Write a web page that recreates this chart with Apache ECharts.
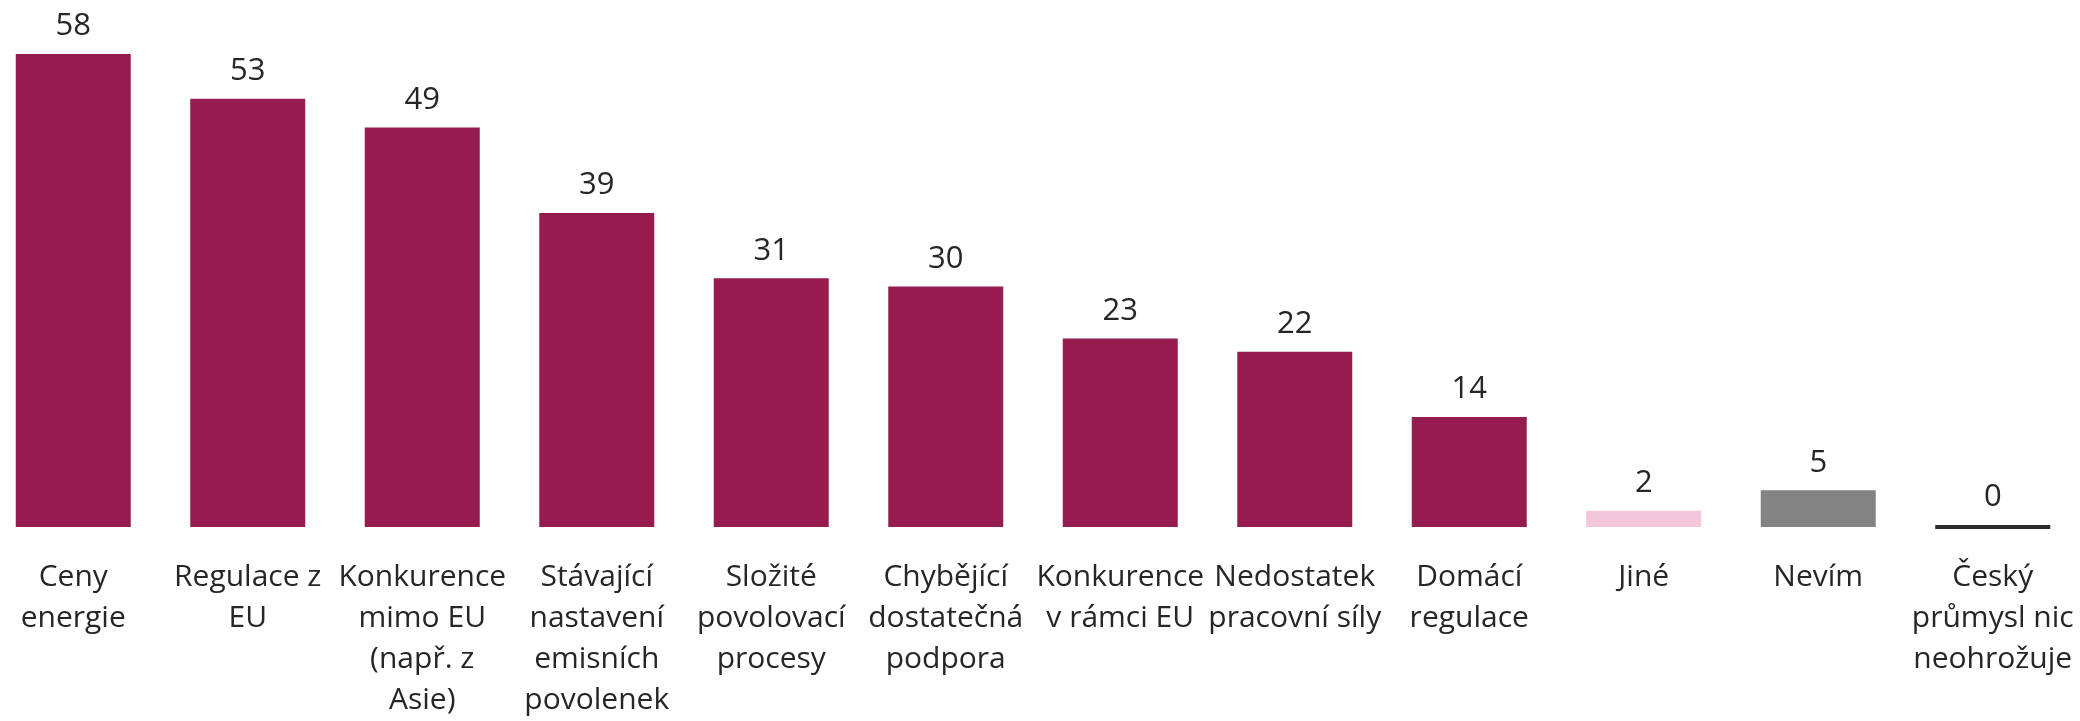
<!DOCTYPE html>
<html>
<head>
<meta charset="utf-8">
<style>html,body{margin:0;padding:0;background:#fff}#c{width:2080px;height:721px}</style>
<script src="https://cdn.jsdelivr.net/npm/echarts@6/dist/echarts.min.js"></script>
</head>
<body>
<div id="c"></div>
<script>
const categories = [
  'Ceny\nenergie',
  'Regulace z\nEU',
  'Konkurence\nmimo EU\n(např. z\nAsie)',
  'Stávající\nnastavení\nemisních\npovolenek',
  'Složité\npovolovací\nprocesy',
  'Chybějící\ndostatečná\npodpora',
  'Konkurence\nv rámci EU',
  'Nedostatek\npracovní síly',
  'Domácí\nregulace',
  'Jiné',
  'Nevím',
  'Český\nprůmysl nic\nneohrožuje'
];
// values; labels show them rounded
const values = [58, 52.5, 49, 38.5, 30.5, 29.5, 23.1, 21.5, 13.5, 2, 4.5, 0];

const MAIN = '#961C50';
const barColors = [MAIN, MAIN, MAIN, MAIN, MAIN, MAIN, MAIN, MAIN, MAIN, '#F4C6DC', '#838383', '#2B2B2B'];
const FONT = 'Open Sans';

const chart = echarts.init(document.getElementById('c'));
chart.setOption({
  animation: false,
  grid: { left: -14, width: 2094, top: 54, bottom: 194, outerBoundsMode: 'none', containLabel: false },
  xAxis: {
    type: 'category',
    data: categories,
    axisLine: { show: false },
    axisTick: { show: false },
    axisLabel: {
      interval: 0,
      margin: 30,
      fontFamily: FONT,
      fontSize: 30,
      lineHeight: 41,
      color: '#262626'
    }
  },
  yAxis: { type: 'value', min: 0, max: 58, show: false, splitLine: { show: false } },
  series: [{
    type: 'bar',
    barWidth: 115,
    data: values.map((v, i) => ({
      value: v,
      itemStyle: i === values.length - 1
        ? { color: barColors[i], borderColor: barColors[i], borderWidth: 4 }
        : { color: barColors[i] }
    })),
    label: {
      show: true,
      position: 'top',
      distance: 12,
      fontFamily: FONT,
      fontSize: 31,
      color: '#262626',
      formatter: p => String(Math.round(p.value))
    }
  }]
});
</script>
</body>
</html>
